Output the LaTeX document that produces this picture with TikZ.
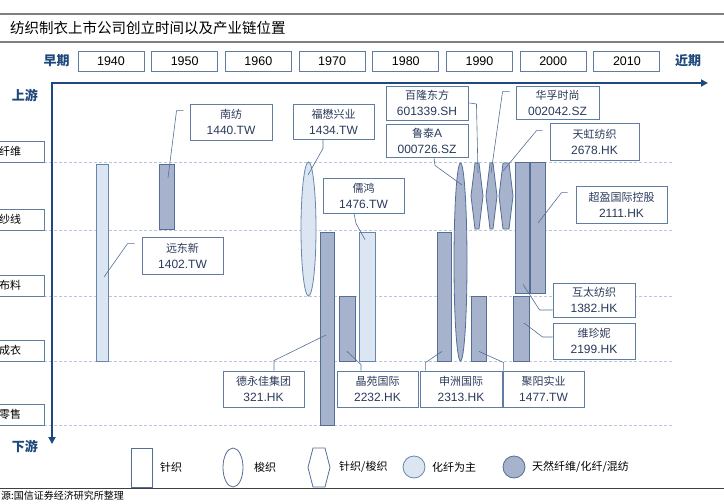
\documentclass[tikz,border=0pt]{standalone}
\usepackage{fontspec}
\setmainfont{Liberation Sans}
\newfontfamily\cjk{Noto Sans CJK SC}
\usepackage{xcolor}
\usetikzlibrary{arrows.meta,shapes.geometric}
\definecolor{axisblue}{RGB}{31,73,125}
\definecolor{boxline}{RGB}{96,124,160}
\definecolor{labeltext}{RGB}{42,58,90}
\definecolor{bardk}{RGB}{167,178,204}
\definecolor{bardkline}{RGB}{84,110,150}
\definecolor{barlt}{RGB}{220,230,243}
\definecolor{barltline}{RGB}{104,134,172}
\definecolor{leadline}{RGB}{84,110,150}
\definecolor{gridline}{RGB}{185,198,222}
\definecolor{rulegray}{RGB}{128,128,128}
\newcommand\zh[1]{{\cjk\fontsize{11}{16}\selectfont #1}}
\tikzset{
  lbl/.style={draw=boxline, line width=0.9pt, fill=white, text=labeltext, align=center, inner sep=0pt, font=\fontsize{12}{16}\selectfont},
  yearbox/.style={draw=boxline, line width=0.9pt, fill=white, minimum width=66, minimum height=20, inner sep=0pt, font=\fontsize{12.5}{14}\selectfont},
  stagebox/.style={draw=boxline, line width=0.9pt, fill=white, minimum width=68, minimum height=21, inner sep=0pt, font=\cjk\fontsize{11}{13}\selectfont},
  period/.style={text=axisblue, font=\cjk\bfseries\fontsize{13}{15}\selectfont, inner sep=0pt},
  bardark/.style={draw=bardkline, fill=bardk, line width=0.8pt, inner sep=0pt},
  barlight/.style={draw=barltline, fill=barlt, line width=0.8pt, inner sep=0pt},
  legshape/.style={draw=bardkline, fill=white, line width=0.8pt, inner sep=0pt},
  legtext/.style={anchor=west, font=\cjk\fontsize{11}{13}\selectfont, inner sep=0pt},
  leader/.style={draw=leadline, line width=0.6pt},
  stageline/.style={draw=gridline, dashed, dash pattern=on 3pt off 2pt, line width=0.6pt},
  axis/.style={draw=axisblue, line width=2.4pt, -{Triangle[length=7pt,width=7pt]}}
}

\begin{document}
\begin{tikzpicture}[x=1pt,y=-1pt]
	\useasboundingbox (0,0) rectangle (724,504);
	\draw[rulegray, line width=1.2pt] (0,14) -- (724,14);
	\draw[rulegray, line width=1.2pt] (0,42) -- (724,42);
	\node[anchor=west, inner sep=0pt, font=\cjk\fontsize{14.5}{16}\selectfont] (title) at (10,28) {纺织制衣上市公司创立时间以及产业链位置};
	\node[period] (early) at (56.5,61) {早期};
	\foreach \yr [count=\i from 0] in {1940,1950,1960,1970,1980,1990,2000,2010}
		\node[yearbox] (y\yr) at ({111+73.7*\i},61) {\yr};
	\node[period] (late) at (688,61) {近期};
	\node[period] (up) at (25,95) {上游};
	\node[period] (down) at (25,446) {下游};
	\foreach \st/\yy in {纤维/162,纱线/230,布料/296,成衣/361,零售/425} {
		\draw[stageline] (44,\yy) -- (674,\yy);
		\node[stagebox] (s\yy) at (10,{\yy-10.5}) {\st};
	}
	\coordinate (o) at (52,83);
	\coordinate (xend) at (708,83);
	\coordinate (yend) at (52,444);
	\draw[axis] ([shift={(-1.2,0)}]o) -- (xend);
	\draw[axis] (o) -- (yend);
	% bars
	\node[barlight, minimum width=12, minimum height=197] (ydbar) at (102,262.5) {};
	\node[bardark, minimum width=15, minimum height=65] (nfbar) at (166.5,196.5) {};
	\node[barlight, ellipse, minimum width=15, minimum height=134] (fmell) at (308.5,229) {};
	\node[bardark, minimum width=14, minimum height=193] (dyjbar) at (327,328.5) {};
	\node[bardark, minimum width=16, minimum height=65] (jybar) at (347,328.5) {};
	\node[barlight, minimum width=16, minimum height=129] (rhbar) at (367,296.5) {};
	\node[bardark, minimum width=14, minimum height=129] (szbar) at (444,296.5) {};
	\node[bardark, ellipse, minimum width=13, minimum height=198] (ltell) at (460.5,262) {};
	\node[bardark, minimum width=15, minimum height=65] (jyybar) at (478.5,328.5) {};
	\foreach \xa/\xb [count=\k] in {471/483,486/497,499/513} {
		\draw[bardark] (\xa,196) -- ({\xa+4},163) -- ({\xb-4},163) -- (\xb,196) -- ({\xb-4},229) -- ({\xa+4},229) -- cycle;
		\coordinate (hx\k) at ({(\xa+\xb)/2},196);
	}
	\node[bardark, minimum width=14, minimum height=131] (htbar) at (522,227.5) {};
	\node[bardark, minimum width=15, minimum height=131] (cybar) at (537.5,227.5) {};
	\node[bardark, minimum width=16, minimum height=65] (wznbar) at (521,328.5) {};
	% company labels
	\node[lbl, minimum width=82, minimum height=36] (nf) at (231,122) {\zh{南纺}\\1440.TW};
	\node[lbl, minimum width=81, minimum height=35] (fm) at (333.5,121.5) {\zh{福懋兴业}\\1434.TW};
	\node[lbl, minimum width=81, minimum height=35] (rh) at (363.5,195.5) {\zh{儒鸿}\\1476.TW};
	\node[lbl, minimum width=81, minimum height=37] (yd) at (182.5,255.5) {\zh{远东新}\\1402.TW};
	\node[lbl, minimum width=82, minimum height=34] (bl) at (427,103) {\zh{百隆东方}\\601339.SH};
	\node[lbl, minimum width=82, minimum height=33] (lt) at (427,140.5) {\zh{鲁泰}A\\000726.SZ};
	\node[lbl, minimum width=83, minimum height=33] (hf) at (557.5,102.5) {\zh{华孚时尚}\\002042.SZ};
	\node[lbl, minimum width=89, minimum height=37] (th) at (594.5,141.5) {\zh{天虹纺织}\\2678.HK};
	\node[lbl, minimum width=91, minimum height=37] (cy) at (621.5,204.5) {\zh{超盈国际控股}\\2111.HK};
	\node[lbl, minimum width=82, minimum height=34] (ht) at (594,300) {\zh{互太纺织}\\1382.HK};
	\node[lbl, minimum width=82, minimum height=36] (wzn) at (594,341) {\zh{维珍妮}\\2199.HK};
	\node[lbl, minimum width=81, minimum height=36] (dyj) at (263.5,389) {\zh{德永佳集团}\\321.HK};
	\node[lbl, minimum width=81, minimum height=36] (jy) at (377.5,389) {\zh{晶苑国际}\\2232.HK};
	\node[lbl, minimum width=82, minimum height=36] (sz) at (461,389) {\zh{申洲国际}\\2313.HK};
	\node[lbl, minimum width=81, minimum height=36] (jyy) at (543.5,389) {\zh{聚阳实业}\\1477.TW};
	% leaders
	\draw[leader] ([shift={(-6,7)}]nf.north west) -- ++(-7,0) -- ([shift={(1.5,-18.5)}]nfbar.center);
	\draw[leader] ([shift={(-7,7)}]yd.north west) -- ++(-7,0) -- ([shift={(2,14.5)}]ydbar.center);
	\draw[leader] ([shift={(-10.5,0)}]fm.south) -- ++(0,9) -- ([shift={(-0.5,-54)}]fmell.center);
	\draw[leader] ([shift={(-9.5,0)}]rh.south) -- ++(2,10) -- ([shift={(-2,8)}]rhbar.north);
	\draw[leader] ([shift={(10.5,0)}]dyj.north) -- ++(0,-10) -- ([shift={(-1,6.5)}]dyjbar.center);
	\draw[leader] ([shift={(-16.5,0)}]jy.north) -- ++(0,-6) -- ([shift={(0,-10)}]jybar.south);
	\draw[leader] ([shift={(6,0)}]sz.north west) -- ++(0,-8) -- ([shift={(-2,-10)}]szbar.south);
	\draw[leader] ([shift={(1,0)}]jyy.north west) -- ++(0,-8) -- ([shift={(0.5,-10)}]jyybar.south);
	\draw[leader] ([shift={(1,0)}]bl.east) -- ++(7,1) -- ([shift={(1,-23)}]hx1);
	\draw[leader] ([shift={(-6,6)}]hf.north west) -- ++(-7,0) -- ([shift={(-0.5,-23)}]hx2);
	\draw[leader] ([shift={(-7,8)}]th.north west) -- ++(-6,0) -- ([shift={(-3,-25)}]hx3);
	\draw[leader] ([shift={(7,0)}]lt.south) -- ++(1,8) -- ([shift={(1.5,-77)}]ltell.center);
	\draw[leader] ([shift={(-8,7)}]cy.north west) -- ++(-6,0) -- ([shift={(0.5,-4.5)}]cybar.center);
	\draw[leader] ([shift={(0,10)}]ht.west) -- ++(-13,0) -- ([shift={(1,-9)}]htbar.south);
	\draw[leader] ([shift={(0,-4)}]wzn.west) -- ++(-10,0) -- ([shift={(3,-5.5)}]wznbar.center);
	% legend
	\node[legshape, minimum width=21, minimum height=39] (lgknit) at (141.5,467.5) {};
	\node[legtext] (lgknitt) at (160,467) {针织};
	\node[legshape, ellipse, minimum width=20, minimum height=39] (lgwoven) at (233,467.5) {};
	\node[legtext] (lgwovent) at (254,467) {梭织};
	\draw[legshape] (308,467.5) -- (313,448) -- (325,448) -- (330,467.5) -- (325,487) -- (313,487) -- cycle;
	\coordinate (lghex) at (319,467.5);
	\node[legtext] (lghext) at (339,467) {针织/梭织};
	\node[barlight, circle, minimum size=22] (lglt) at (414,467) {};
	\node[legtext] (lgltt) at (432,467) {化纤为主};
	\node[bardark, circle, minimum size=22] (lgdk) at (514,467) {};
	\node[legtext] (lgdkt) at (532,467) {天然纤维/化纤/混纺};
	\draw[black!75, line width=1pt] (0,488) -- (724,488);
	\node[anchor=west, inner sep=0pt, font=\cjk\fontsize{10}{12}\selectfont] (src) at (1,496) {源:国信证券经济研究所整理};
\end{tikzpicture}
\end{document}
